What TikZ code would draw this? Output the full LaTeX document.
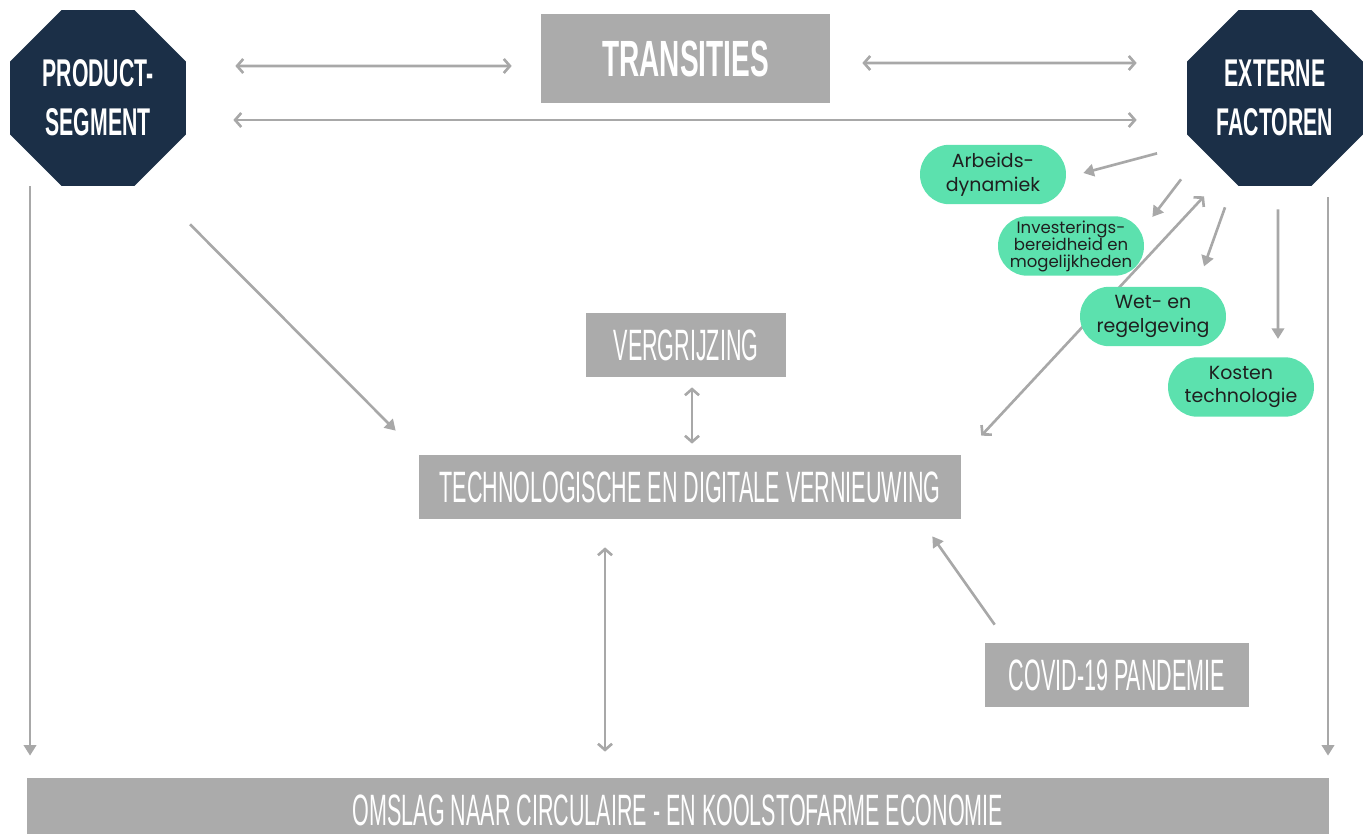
\documentclass[tikz,border=0pt]{standalone}
\usepackage{fontspec}
\setmainfont{Liberation Sans}
\newfontfamily\headfont[FakeStretch=0.55]{Liberation Sans}
\newfontfamily\boxfont[FakeStretch=0.49]{Liberation Sans}
\newfontfamily\pillfont{Poppins}
\usepackage{xcolor}
\usepackage{tikz}
\usetikzlibrary{arrows.meta}
\usetikzlibrary{positioning}
\usetikzlibrary{shapes.geometric}
\usetikzlibrary{backgrounds}

\definecolor{navy}{HTML}{1B2F47}
\definecolor{boxgray}{HTML}{ABABAB}
\definecolor{arrgray}{HTML}{A8A8A8}
\definecolor{mint}{HTML}{5CE1AE}
\definecolor{pilltext}{HTML}{1F1F1F}

\tikzset{
  octa/.style={regular polygon, regular polygon sides=8, minimum size=3.81cm, inner sep=0pt,
    fill=navy, text=white, align=center, font=\headfont\bfseries\fontsize{22}{27.8}\selectfont},
  graybox/.style={fill=boxgray, text=white, inner sep=0pt,
    font=\boxfont\fontsize{25}{27}\selectfont},
  pill/.style={fill=mint, text=pilltext, rounded corners=0.59cm, minimum width=2.92cm,
    minimum height=1.19cm, inner sep=0pt, align=center, font=\pillfont\fontsize{10.8}{13.8}\selectfont},
  arr/.style={draw=arrgray, line width=1.5pt, -{Triangle[length=6pt,width=7pt]}},
  dbl/.style={draw=arrgray, line width=1.5pt,
    {Straight Barb[length=3.5pt,width=8pt]}-{Straight Barb[length=3.5pt,width=8pt]}}
}

\begin{document}
\begin{tikzpicture}[x=0.02cm, y=-0.02cm]
\useasboundingbox (0,0) rectangle (1370,834);

% Hoofdblokken
\node[octa] (prod) at (98,98) {PRODUCT-\\SEGMENT};
\node[octa] (ext) at (1275,98) {EXTERNE\\FACTOREN};
\node[graybox, minimum width=5.78cm, minimum height=1.78cm, font=\headfont\bfseries\fontsize{29}{31}\selectfont] (trans) at (685.5,58.5) {TRANSITIES};
\node[graybox, minimum width=4cm, minimum height=1.28cm] (verg) at (686,345) {VERGRIJZING};
\node[graybox, minimum width=10.84cm, minimum height=1.28cm] (tech) at (690,487) {TECHNOLOGISCHE EN DIGITALE VERNIEUWING};
\node[graybox, minimum width=5.28cm, minimum height=1.28cm] (covid) at (1117,675) {COVID-19 PANDEMIE};
\node[graybox, minimum width=26.04cm, minimum height=1.28cm] (omslag) at (678,810) {OMSLAG NAAR CIRCULAIRE - EN KOOLSTOFARME ECONOMIE};

% Lange diagonaal achter de factoren
\begin{pgfonlayer}{background}
\draw[dbl] ([shift={(-1.42cm,-0.2cm)}]ext.south) -- ([shift={(0.4cm,0.38cm)}]tech.north east);
\end{pgfonlayer}

% Externe factoren
\node[pill] (arb) at (993,174.5) {Arbeids-\\dynamiek};
\node[pill, font=\pillfont\fontsize{9.4}{9.7}\selectfont] (inv) at (1071,246) {Investerings-\\bereidheid en\\mogelijkheden};
\node[pill, font=\pillfont\fontsize{10.8}{14}\selectfont] (wet) at (1153,316.5) {Wet- en\\regelgeving};
\node[pill, font=\pillfont\fontsize{10.8}{13}\selectfont] (kost) at (1241,387) {Kosten\\technologie};

% Pijlen bovenaan
\draw[dbl, shorten <=0.98cm, shorten >=0.58cm] ([yshift=0.64cm]prod.east) -- ([yshift=-0.15cm]trans.west);
\draw[dbl, shorten <=0.64cm, shorten >=1.0cm] ([yshift=-0.09cm]trans.east) -- ([yshift=0.7cm]ext.west);
\draw[dbl, shorten <=0.94cm, shorten >=1.0cm] ([yshift=-0.44cm]prod.east) -- ([yshift=-0.44cm]ext.west);

% Verticale pijlen naar de omslag
\draw[arr, shorten >=0.44cm] ([xshift=-1.36cm]prod.south) -- ([xshift=-1.36cm]prod.south |- omslag.north);
\draw[arr, shorten <=0.22cm, shorten >=0.44cm] ([xshift=1.06cm]ext.south) -- ([xshift=1.06cm]ext.south |- omslag.north);
\draw[dbl, shorten <=0.56cm, shorten >=0.52cm] ([xshift=-1.7cm]tech.south) -- ([xshift=-1.7cm]tech.south |- omslag.north);

% Middenstuk
\draw[arr] ([shift={(1.84cm,-0.76cm)}]prod.south) -- ([shift={(-0.46cm,0.48cm)}]tech.north west);
\draw[dbl, shorten <=0.2cm, shorten >=0.22cm] ([xshift=0.12cm]verg.south) -- ([xshift=0.12cm]verg.south |- tech.north);
\draw[arr] ([shift={(0.2cm,0.36cm)}]covid.north west) -- ([shift={(-0.58cm,-0.34cm)}]tech.south east);

% Pijlen naar de factoren
\draw[arr] ([shift={(-2.36cm,0.66cm)}]ext.south) -- ([shift={(0.34cm,0.03cm)}]arb.east);
\draw[arr] ([shift={(-1.88cm,0.14cm)}]ext.south) -- ([shift={(0.16cm,-0.02cm)}]inv.north east);
\draw[arr] ([shift={(-1.0cm,-0.42cm)}]ext.south) -- ([shift={(1.02cm,0.4cm)}]wet.north);
\draw[arr] ([shift={(0.06cm,-0.46cm)}]ext.south) -- ([shift={(0.74cm,0.36cm)}]kost.north);

\end{tikzpicture}
\end{document}
